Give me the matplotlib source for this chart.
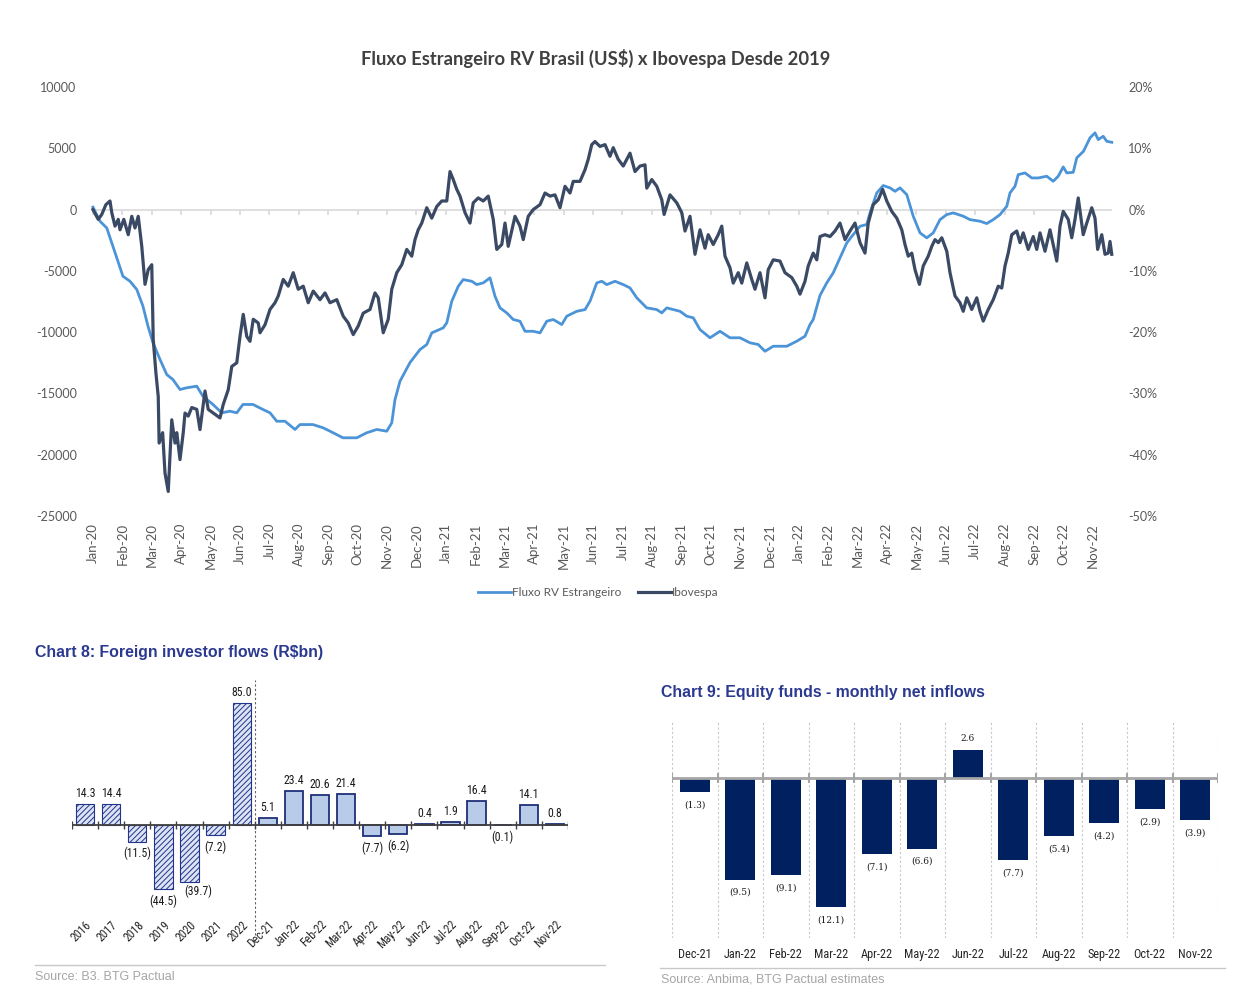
import matplotlib
matplotlib.use("Agg")
import matplotlib.pyplot as plt
from matplotlib.lines import Line2D
from matplotlib import font_manager

# dimensioni figura in pixel
W, H = 1256, 1006

# --- Grafico 1: fluxo estrangeiro x Ibovespa (mese frazionario, valore) ---
month_labels = [
    "Jan-20", "Feb-20", "Mar-20", "Apr-20", "May-20", "Jun-20", "Jul-20", "Aug-20", "Sep-20",
    "Oct-20", "Nov-20", "Dec-20", "Jan-21", "Feb-21", "Mar-21", "Apr-21", "May-21", "Jun-21",
    "Jul-21", "Aug-21", "Sep-21", "Oct-21", "Nov-21", "Dec-21", "Jan-22", "Feb-22", "Mar-22",
    "Apr-22", "May-22", "Jun-22", "Jul-22", "Aug-22", "Sep-22", "Oct-22", "Nov-22",
]

fluxo = [
    (0.00, 200), (0.24, -950), (0.47, -1500), (0.68, -3000), (1.02, -5440), (1.26, -5850),
    (1.49, -6520), (1.70, -7880), (1.87, -9500), (2.04, -10850), (2.28, -12230), (2.51, -13460),
    (2.72, -13870), (2.96, -14680), (3.19, -14540), (3.53, -14410), (3.74, -15230), (4.08, -15900),
    (4.38, -16580), (4.66, -16450), (4.89, -16580), (5.10, -15900), (5.44, -15900), (5.78, -16310),
    (6.02, -16580), (6.25, -17270), (6.53, -17270), (6.87, -17940), (7.04, -17540), (7.48, -17540),
    (7.82, -17800), (8.06, -18080), (8.50, -18620), (8.97, -18620), (9.31, -18210), (9.65, -17940),
    (9.99, -18080), (10.16, -17400), (10.27, -15500), (10.44, -14000), (10.78, -12480), (11.12, -11420),
    (11.35, -11010), (11.52, -10060), (11.91, -9650), (12.03, -9240), (12.20, -7480), (12.42, -6260),
    (12.59, -5710), (12.88, -5850), (13.05, -6120), (13.27, -5980), (13.50, -5570), (13.67, -7070),
    (13.84, -8020), (14.07, -8430), (14.29, -8970), (14.52, -9110), (14.69, -9930), (14.97, -9930),
    (15.20, -10060), (15.43, -9110), (15.65, -8970), (15.94, -9380), (16.11, -8700), (16.45, -8300),
    (16.73, -8160), (16.90, -7480), (17.13, -5980), (17.30, -5850), (17.47, -6120), (17.75, -5850),
    (18.03, -6120), (18.26, -6390), (18.49, -7200), (18.83, -8020), (19.17, -8160), (19.34, -8430),
    (19.51, -8020), (19.96, -8300), (20.19, -8700), (20.41, -8830), (20.64, -9790), (20.98, -10460),
    (21.32, -9930), (21.66, -10460), (22.00, -10460), (22.34, -10870), (22.62, -11010), (22.85, -11560),
    (23.13, -11150), (23.59, -11150), (23.93, -10740), (24.21, -10330), (24.38, -9380), (24.49, -8970),
    (24.72, -7000), (24.95, -5980), (25.17, -5160), (25.40, -3940), (25.63, -2720), (25.85, -2040),
    (26.08, -1360), (26.31, -1220), (26.42, -270), (26.65, 1360), (26.87, 1960), (27.10, 1770),
    (27.27, 1490), (27.44, 1770), (27.67, 1220), (27.89, -540), (28.12, -1900), (28.35, -2310),
    (28.57, -1900), (28.80, -820), (29.03, -410), (29.25, -270), (29.59, -540), (29.82, -820),
    (30.16, -950), (30.39, -1140), (30.61, -820), (30.84, -410), (31.07, 270), (31.18, 1360),
    (31.35, 1900), (31.46, 2850), (31.69, 2990), (31.92, 2580), (32.14, 2580), (32.43, 2720),
    (32.65, 2310), (32.82, 2720), (32.99, 3480), (33.11, 2990), (33.33, 3040), (33.45, 4220),
    (33.68, 4760), (33.90, 5850), (34.07, 6260), (34.18, 5710), (34.35, 5980), (34.47, 5570),
    (34.64, 5490),
]

ibovespa = [
    (0.00, 0.0), (0.18, -1.6), (0.30, -0.8), (0.44, 0.8), (0.58, 1.4), (0.64, -0.5), (0.75, -2.7),
    (0.86, -1.6), (0.92, -3.3), (1.05, -1.6), (1.20, -4.1), (1.32, -1.1), (1.43, -3.0), (1.54, -1.1),
    (1.66, -6.0), (1.77, -12.2), (1.88, -9.8), (2.00, -9.0), (2.05, -21.2), (2.14, -26.6), (2.22, -30.5),
    (2.25, -38.1), (2.37, -36.4), (2.45, -43.0), (2.56, -46.0), (2.68, -34.3), (2.79, -38.1), (2.85, -36.4),
    (2.96, -40.8), (3.07, -36.4), (3.13, -33.2), (3.24, -33.7), (3.36, -32.3), (3.53, -32.6), (3.64, -35.9),
    (3.81, -29.6), (3.92, -32.6), (4.09, -33.2), (4.32, -34.0), (4.43, -31.8), (4.60, -29.4), (4.72, -25.6),
    (4.89, -25.0), (5.00, -20.7), (5.11, -17.1), (5.23, -20.7), (5.34, -21.5), (5.45, -17.9), (5.62, -18.5),
    (5.68, -20.1), (5.85, -18.8), (6.02, -16.3), (6.19, -15.2), (6.30, -14.1), (6.47, -11.4), (6.64, -12.5),
    (6.81, -10.3), (6.98, -13.0), (7.15, -12.5), (7.32, -15.2), (7.49, -13.3), (7.72, -14.7), (7.89, -13.6),
    (8.06, -15.2), (8.29, -14.7), (8.51, -17.4), (8.68, -18.5), (8.85, -20.4), (9.02, -19.0), (9.19, -16.9),
    (9.42, -16.3), (9.59, -13.6), (9.70, -14.4), (9.87, -20.1), (10.04, -17.9), (10.16, -13.0), (10.33, -10.3),
    (10.50, -9.0), (10.67, -6.5), (10.84, -7.6), (10.95, -4.9), (11.06, -3.3), (11.18, -2.2), (11.35, 0.3),
    (11.52, -1.4), (11.69, 0.5), (11.86, 1.4), (12.03, 1.4), (12.14, 6.2), (12.25, 4.9), (12.37, 3.3),
    (12.48, 2.2), (12.65, -0.5), (12.82, -2.2), (12.93, 1.1), (13.10, 1.9), (13.27, 1.4), (13.44, 2.2),
    (13.61, -1.6), (13.73, -6.5), (13.90, -5.7), (14.01, -2.2), (14.12, -6.0), (14.35, -1.1), (14.52, -2.7),
    (14.63, -4.9), (14.80, -1.1), (14.97, 0.0), (15.20, 0.8), (15.37, 2.7), (15.54, 2.2), (15.71, 2.4),
    (15.88, 0.3), (16.05, 3.8), (16.22, 2.7), (16.33, 4.6), (16.56, 4.6), (16.73, 6.5), (16.84, 8.2),
    (16.96, 10.6), (17.07, 11.1), (17.24, 10.3), (17.41, 10.6), (17.58, 8.7), (17.69, 10.1), (17.86, 8.2),
    (18.03, 7.1), (18.26, 9.2), (18.43, 6.2), (18.60, 7.1), (18.77, 7.3), (18.83, 3.5), (19.00, 4.9),
    (19.17, 3.8), (19.34, 1.6), (19.42, -0.8), (19.62, 2.4), (19.85, 1.1), (20.02, -0.5), (20.13, -3.5),
    (20.30, -1.1), (20.47, -7.3), (20.64, -3.3), (20.81, -6.3), (20.92, -4.1), (21.09, -5.7), (21.26, -4.1),
    (21.38, -2.7), (21.49, -7.6), (21.66, -9.5), (21.77, -12.0), (21.94, -10.3), (22.06, -12.0), (22.23, -8.7),
    (22.40, -11.4), (22.51, -13.0), (22.68, -10.3), (22.85, -14.4), (22.96, -9.8), (23.13, -8.2), (23.36, -8.4),
    (23.53, -10.3), (23.76, -11.1), (23.93, -12.5), (24.04, -13.8), (24.21, -11.7), (24.32, -9.2), (24.49, -7.1),
    (24.61, -8.2), (24.72, -4.4), (24.89, -4.1), (25.06, -4.4), (25.23, -3.5), (25.40, -2.2), (25.57, -4.9),
    (25.74, -3.5), (25.91, -2.2), (26.08, -5.4), (26.25, -7.1), (26.36, -2.2), (26.53, 0.8), (26.70, 1.6),
    (26.85, 3.3), (26.99, 1.4), (27.16, -0.3), (27.33, -1.4), (27.50, -3.3), (27.61, -5.7), (27.72, -7.6),
    (27.84, -7.1), (27.95, -9.8), (28.10, -12.2), (28.23, -9.2), (28.40, -7.6), (28.52, -6.0), (28.63, -4.9),
    (28.74, -5.4), (28.86, -4.6), (29.03, -6.8), (29.14, -10.3), (29.31, -14.1), (29.48, -15.2), (29.59, -16.6),
    (29.71, -14.4), (29.88, -16.3), (30.05, -14.4), (30.16, -16.6), (30.27, -18.2), (30.44, -16.3), (30.61, -14.7),
    (30.78, -12.5), (30.90, -12.8), (31.01, -9.2), (31.12, -7.1), (31.24, -4.1), (31.41, -3.5), (31.52, -5.4),
    (31.63, -3.8), (31.80, -6.5), (31.97, -4.4), (32.09, -6.5), (32.20, -3.8), (32.37, -6.8), (32.54, -3.3),
    (32.77, -8.4), (32.88, -2.7), (32.99, -0.3), (33.16, -1.6), (33.28, -4.6), (33.39, -1.6), (33.50, 1.9),
    (33.67, -4.1), (33.79, -2.2), (33.96, 0.3), (34.07, -1.4), (34.16, -6.5), (34.30, -4.1), (34.41, -7.3),
    (34.52, -7.1), (34.58, -5.2), (34.64, -7.3),
]

# --- Grafico 8: flussi investitori esteri ---
years8 = ["2016", "2017", "2018", "2019", "2020", "2021", "2022"]
flows_years = [14.3, 14.4, -11.5, -44.5, -39.7, -7.2, 85.0]
months8 = ["Dec-21", "Jan-22", "Feb-22", "Mar-22", "Apr-22", "May-22",
           "Jun-22", "Jul-22", "Aug-22", "Sep-22", "Oct-22", "Nov-22"]
flows_months = [5.1, 23.4, 20.6, 21.4, -7.7, -6.2, 0.4, 1.9, 16.4, -0.1, 14.1, 0.8]

# --- Grafico 9: fondi azionari ---
months9 = ["Dec-21", "Jan-22", "Feb-22", "Mar-22", "Apr-22", "May-22",
           "Jun-22", "Jul-22", "Aug-22", "Sep-22", "Oct-22", "Nov-22"]
inflows9 = [-1.3, -9.5, -9.1, -12.1, -7.1, -6.6, 2.6, -7.7, -5.4, -4.2, -2.9, -3.9]


def px_axes(fig, left, top, right, bottom):
    # crea un asse partendo da coordinate in pixel
    return fig.add_axes([left / W, 1 - bottom / H, (right - left) / W, (bottom - top) / H])


def fmt(v):
    return f"{v:.1f}" if v >= 0 else f"({-v:.1f})"


# font stretto se disponibile, altrimenti Liberation Sans
nomi = {f.name for f in font_manager.fontManager.ttflist}
narrow_fp = {"family": "Liberation Sans", "stretch": "normal"}
for cand in ("Liberation Sans Narrow", "Arial Narrow", "Roboto Condensed", "DejaVu Sans Condensed"):
    if cand in nomi:
        narrow_fp = {"family": cand}
        break
condensed_ok = narrow_fp["family"] != "Liberation Sans"
lab8_size = 8.5 if condensed_ok else 7.8

fig = plt.figure(figsize=(W / 100, H / 100), dpi=100)

# ---------------- grafico in alto ----------------
grey_txt = "#595959"
blue = "#4C94D8"
dark = "#3B4A64"

ax = px_axes(fig, 85, 87, 1120, 516)
ax2 = ax.twinx()
ax.set_xlim(-0.27, 34.92)
ax.set_ylim(-25000, 10000)
ax2.set_ylim(-50, 20)

ax.hlines(0, 0, 34.65, color="#D9D9D9", lw=1.2, zorder=1)
ax.vlines(range(len(month_labels)), -450, 0, color="#D9D9D9", lw=1.2, zorder=1)

fx, fy = zip(*fluxo)
ix, iy = zip(*ibovespa)
l1, = ax.plot(fx, fy, color=blue, lw=2.0, solid_joinstyle="round", zorder=3)
l2, = ax2.plot(ix, iy, color=dark, lw=2.3, solid_joinstyle="round", zorder=4)

ax.set_xticks(range(len(month_labels)))
ax.set_xticklabels(month_labels, rotation=90, fontsize=9.5, color=grey_txt, family="Lato")
ax.tick_params(axis="x", length=0, pad=5)
ax.set_yticks(range(-25000, 10001, 5000))
ax.set_yticklabels([str(v) for v in range(-25000, 10001, 5000)], fontsize=9, color=grey_txt, family="Lato")
ax.tick_params(axis="y", length=0, pad=6)
ax2.set_yticks(range(-50, 21, 10))
ax2.set_yticklabels([f"{v}%" for v in range(-50, 21, 10)], fontsize=9, color=grey_txt, family="Lato")
ax2.tick_params(axis="y", length=0, pad=6)
for a in (ax, ax2):
    for s in a.spines.values():
        s.set_visible(False)

fig.text(596 / W, 1 - 58 / H, "Fluxo Estrangeiro RV Brasil (US$) x Ibovespa Desde 2019",
         ha="center", va="center", fontsize=13.2, fontweight="bold", color="#404040", family="Lato")

leg = fig.legend([l1, l2], ["Fluxo RV Estrangeiro", "Ibovespa"], loc="center",
                 bbox_to_anchor=(598 / W, 1 - 593 / H), ncol=2, frameon=False,
                 prop={"family": "Lato", "size": 8.5}, handlelength=2.8,
                 handletextpad=0.1, columnspacing=1.4)
for t in leg.get_texts():
    t.set_color(grey_txt)

# ---------------- Chart 8 ----------------
navy8 = "#22348C"
sans = "Liberation Sans"

ax8 = px_axes(fig, 72, 680, 568, 914)
n_years = len(years8)
cats8 = years8 + months8
vals8 = flows_years + flows_months
plt.rcParams["hatch.linewidth"] = 0.7
ax8.bar(range(n_years), flows_years, width=0.7, facecolor="#DCE3F3",
        edgecolor=navy8, hatch="//////", lw=0.8, zorder=2)
ax8.bar(range(n_years, len(cats8)), flows_months, width=0.7, facecolor="#B8CCEA",
        edgecolor="#1F2F78", lw=1.3, zorder=2)
for i, v in enumerate(vals8):
    # l'etichetta del 2020 sta un po' a destra per non toccare quella del 2019
    dx = 6 if cats8[i] == "2020" else 0
    dy = 3 if v >= 0 else -4
    if cats8[i] == "2020":
        dy = -2
    ax8.annotate(fmt(v), (i, v), xytext=(dx, dy), textcoords="offset points",
                 ha="center", va="bottom" if v >= 0 else "top", fontsize=lab8_size,
                 color="#1A1A1A", **narrow_fp)
ax8.axhline(0, color="#404040", lw=1.3, zorder=3)
ax8.vlines([k - 0.5 for k in range(len(cats8) + 1)], -3, 3, color="#404040", lw=1.0, zorder=3)
ax8.axvline(n_years - 0.5, ymin=-0.09, ymax=1, ls=(0, (2, 2)), color="#606060", lw=0.8, clip_on=False)
ax8.set_xlim(-0.5, len(cats8) - 0.5)
ax8.set_ylim(-62, 101)
ax8.set_yticks([])
ax8.set_xticks(range(len(cats8)))
ax8.set_xticklabels(cats8, rotation=45, ha="right", rotation_mode="anchor",
                    fontsize=lab8_size, color="#262626", **narrow_fp)
ax8.tick_params(axis="x", length=0, pad=3)
for s in ax8.spines.values():
    s.set_visible(False)

fig.text(35 / W, 1 - 652 / H, "Chart 8: Foreign investor flows (R$bn)", ha="left", va="center",
         fontsize=11.4, fontweight="bold", color="#2B3990", family=sans)
fig.add_artist(Line2D([35 / W, 605 / W], [1 - 965 / H] * 2, color="#C8C8C8", lw=1))
fig.text(35 / W, 1 - 977 / H, "Source: B3. BTG Pactual", ha="left", va="center",
         fontsize=9, color="#A6A6A6", family=sans)

# ---------------- Chart 9 ----------------
ax9 = px_axes(fig, 672, 722, 1218, 938)
ax9.bar(range(len(months9)), inflows9, width=0.66, color="#002060", zorder=2)
for k in range(len(months9) + 1):
    ax9.axvline(k - 0.5, ls=(0, (2, 2)), color="#C8C8C8", lw=0.8, zorder=1)
ax9.axhline(0, color="#A6A6A6", lw=2, zorder=3)
ax9.vlines([k - 0.5 for k in range(len(months9) + 1)], -0.45, 0.45, color="#A6A6A6", lw=1.5, zorder=3)
for i, v in enumerate(inflows9):
    ax9.annotate(fmt(v), (i, v), xytext=(0, 5 if v >= 0 else -6), textcoords="offset points",
                 ha="center", va="bottom" if v >= 0 else "top", fontsize=6.5,
                 family="DejaVu Serif", color="#1A1A1A")
ax9.set_xlim(-0.5, len(months9) - 0.5)
ax9.set_ylim(-14.95, 5.23)
ax9.set_yticks([])
ax9.set_xticks(range(len(months9)))
ax9.set_xticklabels(months9, fontsize=8.8 if condensed_ok else 7.5, color="#262626", **narrow_fp)
ax9.tick_params(axis="x", length=0, pad=7)
for s in ax9.spines.values():
    s.set_visible(False)

fig.text(661 / W, 1 - 692 / H, "Chart 9: Equity funds - monthly net inflows", ha="left", va="center",
         fontsize=11.4, fontweight="bold", color="#2B3990", family=sans)
fig.add_artist(Line2D([660 / W, 1225 / W], [1 - 968 / H] * 2, color="#C8C8C8", lw=1))
fig.text(661 / W, 1 - 980 / H, "Source: Anbima, BTG Pactual estimates", ha="left", va="center",
         fontsize=9, color="#A6A6A6", family=sans)

fig.savefig("out.png", dpi=100, facecolor="white")
